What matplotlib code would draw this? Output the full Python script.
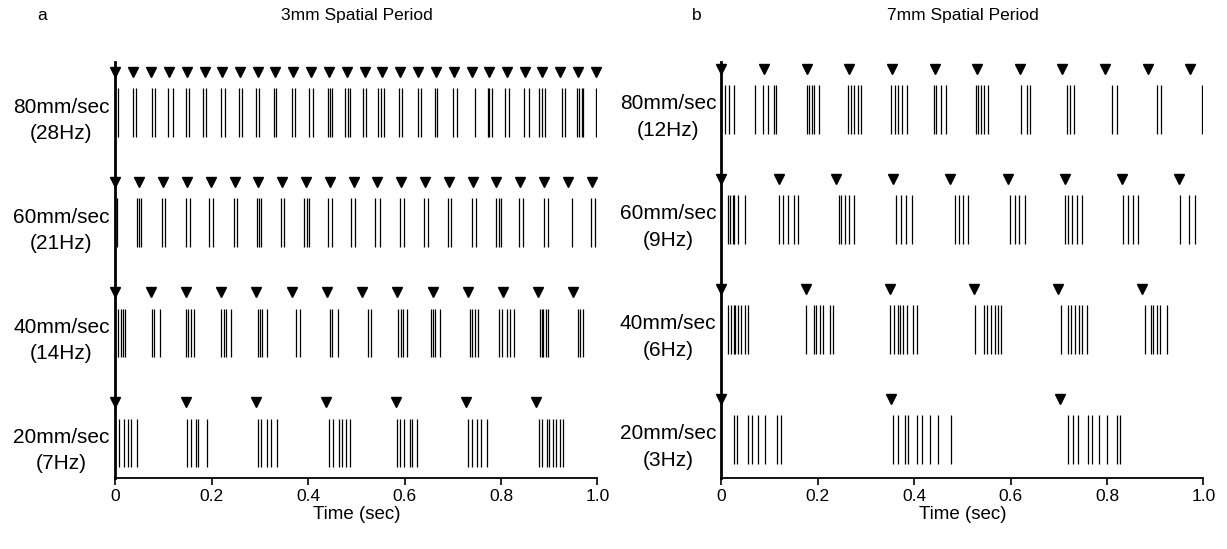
import matplotlib
matplotlib.use("Agg")
import matplotlib.pyplot as plt
from matplotlib.transforms import blended_transform_factory

plt.rcParams["font.family"] = ["Liberation Sans", "DejaVu Sans"]

# rows from top to bottom
speeds = ["80mm/sec", "60mm/sec", "40mm/sec", "20mm/sec"]
freqs_3mm = ["(28Hz)", "(21Hz)", "(14Hz)", "(7Hz)"]
freqs_7mm = ["(12Hz)", "(9Hz)", "(6Hz)", "(3Hz)"]

# stimulus onsets (triangles), seconds
onsets_3mm = [
    [0, .037, .074, .111, .148, .185, .222, .259, .295, .332, .369, .406, .443, .480,
     .517, .554, .591, .628, .665, .702, .739, .776, .812, .849, .886, .923, .960, .997],
    [0, .049, .099, .148, .198, .247, .296, .346, .395, .445, .494, .543, .593, .642,
     .692, .741, .790, .840, .889, .939, .988],
    [0, .073, .146, .219, .292, .366, .439, .512, .585, .658, .731, .804, .877, .950],
    [0, .146, .291, .437, .582, .728, .873],
]
onsets_7mm = [
    [0, .088, .177, .265, .354, .442, .530, .619, .707, .796, .884, .972],
    [0, .119, .237, .356, .475, .594, .712, .831, .950],
    [0, .175, .349, .524, .699, .873],
    [0, .351, .702],
]

# spike times, seconds
spikes_3mm = [
    [.006, .036, .042, .075, .082, .108, .119, .146, .153, .182, .188, .219, .227,
     .256, .263, .291, .298, .328, .334, .366, .372, .402, .410, .440, .445, .450,
     .476, .482, .487, .514, .520, .544, .550, .557, .589, .595, .627, .633, .662,
     .667, .701, .709, .746, .772, .776, .782, .808, .816, .848, .858, .879, .884,
     .891, .926, .933, .957, .962, .967, .971, .998],
    [.004, .045, .049, .054, .096, .103, .146, .155, .195, .202, .246, .253, .293,
     .298, .303, .343, .350, .392, .397, .402, .440, .450, .489, .497, .538, .549,
     .590, .599, .640, .649, .689, .697, .739, .749, .789, .796, .800, .837, .846,
     .890, .898, .948, .987, .995],
    [.006, .011, .015, .019, .076, .081, .092, .146, .151, .156, .163, .220, .225,
     .229, .240, .295, .300, .305, .314, .374, .383, .445, .450, .462, .525, .530,
     .587, .592, .597, .604, .655, .659, .664, .673, .736, .739, .745, .753, .796,
     .803, .812, .819, .827, .881, .884, .888, .893, .898, .959, .964, .971],
    [.008, .018, .025, .032, .045, .149, .156, .167, .172, .189, .295, .303, .315,
     .322, .336, .444, .451, .464, .470, .478, .487, .585, .590, .599, .611, .616,
     .625, .732, .739, .751, .758, .770, .879, .886, .895, .899, .908, .915, .922,
     .929],
]
spikes_7mm = [
    [.007, .016, .025, .070, .087, .096, .108, .113, .177, .182, .187, .193, .202,
     .263, .269, .276, .283, .289, .352, .360, .367, .374, .384, .440, .446, .455,
     .465, .528, .533, .538, .545, .554, .621, .633, .640, .716, .723, .732, .811,
     .820, .903, .911, .998],
    [.013, .018, .023, .027, .035, .049, .120, .128, .137, .151, .158, .244, .248,
     .256, .265, .275, .363, .372, .382, .395, .484, .493, .502, .512, .599, .608,
     .617, .630, .713, .718, .728, .737, .749, .834, .844, .854, .865, .951, .970,
     .982],
    [.014, .020, .025, .029, .035, .041, .049, .056, .175, .193, .197, .204, .211,
     .225, .232, .350, .357, .366, .370, .377, .384, .398, .405, .526, .545, .550,
     .559, .567, .574, .581, .704, .718, .725, .733, .742, .749, .758, .879, .891,
     .896, .903, .910, .924],
    [.025, .032, .056, .064, .076, .090, .115, .123, .355, .367, .381, .386, .405,
     .417, .433, .449, .476, .718, .730, .739, .760, .768, .783, .799, .820, .827],
]


def panel(fig, rect, onsets, spikes, freqs, label_x, offset):
    ax = fig.add_axes(rect)
    n = len(spikes)
    trans = blended_transform_factory(fig.transFigure, ax.transData)
    for i in range(n):
        base = offset + (n - 1 - i)
        ax.eventplot(spikes[i], lineoffsets=base + 0.22, linelengths=0.44,
                     linewidths=0.9, colors="black")
        ax.plot(onsets[i], [base + 0.59] * len(onsets[i]), "v", color="black",
                markersize=7, clip_on=False, zorder=5)
        ax.text(label_x, base + 0.27, speeds[i], transform=trans,
                ha="center", va="center", fontsize=15)
        ax.text(label_x, base + 0.03, freqs[i], transform=trans,
                ha="center", va="center", fontsize=15)

    ax.set_xlim(0, 1.0)
    ax.set_ylim(0, 3.78)
    ax.set_xticks([0, 0.2, 0.4, 0.6, 0.8, 1.0])
    ax.set_xticklabels(["0", "0.2", "0.4", "0.6", "0.8", "1.0"], fontsize=12.5)
    ax.set_yticks([])
    ax.tick_params(axis="x", direction="out", length=5, width=1.2, pad=3)
    ax.set_xlabel("Time (sec)", fontsize=13.5, labelpad=1)
    ax.spines["top"].set_visible(False)
    ax.spines["right"].set_visible(False)
    ax.spines["left"].set_linewidth(2)
    ax.spines["bottom"].set_linewidth(1.3)
    return ax


fig = plt.figure(figsize=(12.27, 5.49), dpi=100)
panel(fig, [0.0941, 0.1293, 0.3928, 0.7577], onsets_3mm, spikes_3mm, freqs_3mm, 0.0501, 0.10)
panel(fig, [0.5880, 0.1293, 0.3928, 0.7577], onsets_7mm, spikes_7mm, freqs_7mm, 0.5444, 0.13)

fig.text(0.0342, 0.971, "a", ha="center", va="center", fontsize=12.5)
fig.text(0.291, 0.971, "3mm Spatial Period", ha="center", va="center", fontsize=12.5)
fig.text(0.568, 0.971, "b", ha="center", va="center", fontsize=12.5)
fig.text(0.7845, 0.971, "7mm Spatial Period", ha="center", va="center", fontsize=12.5)

fig.savefig("out.png", dpi=100)
